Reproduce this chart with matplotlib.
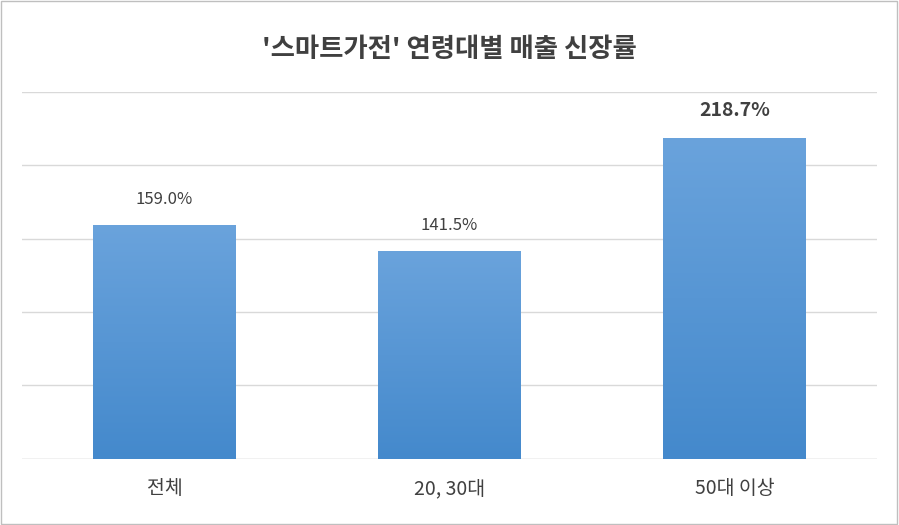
import numpy as np
import matplotlib.pyplot as plt
from matplotlib.patches import Rectangle

plt.rcParams['font.family'] = ['Noto Sans CJK KR', 'DejaVu Sans']

categories = ['전체', '20, 30대', '50대 이상']
values = [159.0, 141.5, 218.7]
labels = ['159.0%', '141.5%', '218.7%']

fig = plt.figure(figsize=(8.99, 5.25), dpi=100)
fig.patches.append(Rectangle((0.001, 0.002), 0.997, 0.996, transform=fig.transFigure,
                             fill=False, edgecolor='#bfbfbf', linewidth=1))
ax = fig.add_axes([0.0245, 0.126, 0.951, 0.699])

x = np.arange(len(categories))
bars = ax.bar(x, values, width=0.5, color='#5b9bd5', zorder=2)

# vertical gradient fill on each bar
grad = np.linspace(0, 1, 256).reshape(-1, 1)
from matplotlib.colors import LinearSegmentedColormap
cmap = LinearSegmentedColormap.from_list('g', ['#4489cc', '#6aa3dc'])
for b in bars:
    x0, w, h = b.get_x(), b.get_width(), b.get_height()
    im = ax.imshow(grad, extent=[x0, x0 + w, 0, h], origin='lower', cmap=cmap,
                   aspect='auto', zorder=3)
    im.set_clip_path(b)

for i, (v, t) in enumerate(zip(values, labels)):
    bold = i == 2
    ax.text(i, v + 12, t, ha='center', va='bottom', fontsize=12 if not bold else 14,
            fontweight='bold' if bold else 'normal', color='#404040')

ax.set_xlim(-0.5, 2.5)
ax.set_ylim(0, 250)
ax.set_yticks(np.arange(0, 251, 50))
ax.yaxis.grid(True, color='#d9d9d9', linewidth=1, zorder=0)
ax.set_axisbelow(True)
ax.tick_params(axis='y', left=False, labelleft=False)
ax.tick_params(axis='x', length=0, pad=14, labelsize=14, labelcolor='#404040')
ax.set_xticks(x)
ax.set_xticklabels(categories)
for s in ax.spines.values():
    s.set_visible(False)
ax.axhline(0, color='#d9d9d9', linewidth=1, zorder=1)

fig.text(0.5, 0.905, "'스마트가전' 연령대별 매출 신장률", ha='center', va='center',
         fontsize=19, fontweight='bold', color='#404040')

fig.savefig('out.png', dpi=100)
